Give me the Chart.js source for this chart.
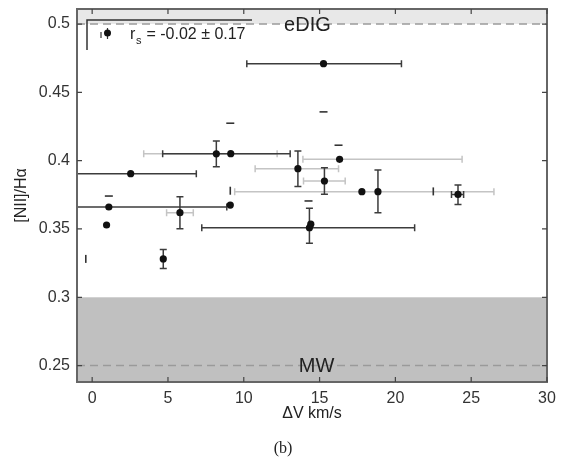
<!DOCTYPE html>
<html>
<head>
<meta charset="utf-8">
<script src="https://cdn.jsdelivr.net/npm/chart.js@4"></script>
<style>
  body { margin: 0; background: #fff; }
  #wrap { width: 561px; height: 470px; position: relative; }
</style>
</head>
<body>
<div id="wrap"><canvas id="chart"></canvas></div>
<script>
'use strict';
// Values: velocity offset (km/s) vs [NII]/Halpha
const dv    = [15.26, 2.54, 8.19, 9.14, 13.57, 16.32, 15.32, 17.79, 18.85, 24.13, 9.11, 1.10, 0.95, 5.79, 4.69, 14.33, 14.42];
const ratio = [0.471, 0.3905, 0.405, 0.4051, 0.3941, 0.401, 0.3851, 0.3773, 0.3773, 0.3753, 0.3675, 0.3661, 0.3529, 0.3619, 0.3281, 0.3509, 0.3535];

// horizontal error bars (dark)
const dvLo = [10.2, -3, null, 4.65, null, null, null, null, null, 23.7, null, -3, null, null, null, 7.23, null];
const dvHi = [20.4, 6.87, null, 13.06, null, null, null, null, null, 24.5, null, 8.88, null, null, null, 21.27, null];
// horizontal error bars (faint)
const dvLo2 = [null, null, 3.4, null, 10.75, 13.9, 13.94, 9.4, null, null, null, null, null, 4.91, null, null, null];
const dvHi2 = [null, null, 12.2, null, 16.25, 24.4, 16.69, 26.5, null, null, null, null, null, 6.67, null, null, null];
// vertical error bars
const ratioLo = [null, null, 0.3956, null, 0.381, null, 0.3754, null, 0.3619, 0.368, null, null, null, 0.3501, 0.3211, 0.3395, null];
const ratioHi = [null, null, 0.4144, null, 0.4071, null, 0.3949, null, 0.3932, 0.3822, null, null, null, 0.3736, 0.335, 0.3651, null];

// loose marks without a dot
const capDv    = [9.11, 15.26, 16.25, 1.10, 14.27];
const capRatio = [0.4274, 0.4357, 0.4113, 0.3741, 0.3705];
const tickDv    = [-0.42, 22.5, 9.11];
const tickRatio = [0.3281, 0.3775, 0.378];

const xTicks = [0, 5, 10, 15, 20, 25, 30];
const yTicks = [0.25, 0.3, 0.35, 0.4, 0.45, 0.5];

const edigLevel = 0.5;   // eDIG reference
const mwLevel = 0.25;    // Milky Way reference
const mwBand = 0.3;      // top of shaded MW band
const rsText = ' = -0.02 \u00b1 0.17';

const toXY = (xs, ys) => xs.map((v, i) => ({ x: v, y: ys[i] }));

const figurePlugin = {
  id: 'figure',
  beforeDatasetsDraw(chart) {
    const { ctx, chartArea: a, scales: { x, y } } = chart;
    ctx.save();
    // shaded bands
    const yE = y.getPixelForValue(edigLevel);
    ctx.fillStyle = '#e8e8e8';
    ctx.fillRect(a.left, a.top, a.width, yE - a.top);
    const yB = y.getPixelForValue(mwBand);
    ctx.fillStyle = '#c0c0c0';
    ctx.fillRect(a.left, yB, a.width, a.bottom - yB);
    // dashed reference lines
    ctx.strokeStyle = '#9a9a9a';
    ctx.lineWidth = 1.5;
    ctx.setLineDash([8, 5]);
    [edigLevel, mwLevel].forEach(v => {
      const py = y.getPixelForValue(v);
      ctx.beginPath();
      ctx.moveTo(a.left, py);
      ctx.lineTo(a.right, py);
      ctx.stroke();
    });
    ctx.setLineDash([]);

    ctx.beginPath();
    ctx.rect(a.left, a.top, a.width, a.height);
    ctx.clip();

    const hbar = (lo, hi, yv, color) => {
      const x0 = x.getPixelForValue(lo), x1 = x.getPixelForValue(hi), py = y.getPixelForValue(yv);
      ctx.strokeStyle = color;
      ctx.beginPath();
      ctx.moveTo(x0, py); ctx.lineTo(x1, py);
      ctx.moveTo(x0, py - 3.5); ctx.lineTo(x0, py + 3.5);
      ctx.moveTo(x1, py - 3.5); ctx.lineTo(x1, py + 3.5);
      ctx.stroke();
    };
    ctx.lineWidth = 1.5;
    dv.forEach((v, i) => {
      if (dvLo2[i] !== null) hbar(dvLo2[i], dvHi2[i], ratio[i], '#c4c4c4');
    });
    dv.forEach((v, i) => {
      if (dvLo[i] !== null) hbar(dvLo[i], dvHi[i], ratio[i], '#3c3c3c');
    });
    dv.forEach((v, i) => {
      if (ratioLo[i] === null) return;
      const px = x.getPixelForValue(v), y0 = y.getPixelForValue(ratioLo[i]), y1 = y.getPixelForValue(ratioHi[i]);
      ctx.strokeStyle = '#3c3c3c';
      ctx.beginPath();
      ctx.moveTo(px, y0); ctx.lineTo(px, y1);
      ctx.moveTo(px - 3.5, y0); ctx.lineTo(px + 3.5, y0);
      ctx.moveTo(px - 3.5, y1); ctx.lineTo(px + 3.5, y1);
      ctx.stroke();
    });
    ctx.restore();
  },
  afterDraw(chart) {
    const { ctx, chartArea: a, scales: { x, y } } = chart;
    ctx.save();
    // frame
    ctx.strokeStyle = '#666';
    ctx.lineWidth = 2;
    ctx.strokeRect(a.left, a.top, a.width, a.height);
    // inward ticks
    ctx.lineWidth = 1.2;
    ctx.strokeStyle = '#444';
    ctx.beginPath();
    xTicks.forEach(t => {
      const px = x.getPixelForValue(t);
      ctx.moveTo(px, a.bottom); ctx.lineTo(px, a.bottom - 5);
      ctx.moveTo(px, a.top); ctx.lineTo(px, a.top + 5);
    });
    yTicks.forEach(t => {
      const py = y.getPixelForValue(t);
      ctx.moveTo(a.left, py); ctx.lineTo(a.left + 5, py);
      ctx.moveTo(a.right, py); ctx.lineTo(a.right - 5, py);
    });
    ctx.stroke();

    // band labels
    ctx.fillStyle = '#222';
    ctx.font = '20px "Liberation Sans", Arial, sans-serif';
    ctx.textAlign = 'center';
    ctx.textBaseline = 'middle';
    ctx.fillText('eDIG', x.getPixelForValue(14.2), y.getPixelForValue(edigLevel) + 1);
    ctx.fillText('MW', x.getPixelForValue(14.8), y.getPixelForValue(mwLevel) + 1);

    // legend bracket
    const lx = a.left + 10, ly = a.top + 11;
    ctx.strokeStyle = '#333';
    ctx.lineWidth = 1.5;
    ctx.beginPath();
    ctx.moveTo(lx, ly + 30); ctx.lineTo(lx, ly); ctx.lineTo(lx + 165, ly);
    ctx.stroke();
    // legend symbol
    ctx.lineWidth = 1.2;
    ctx.beginPath();
    ctx.moveTo(lx + 20.5, ly + 8); ctx.lineTo(lx + 20.5, ly + 19);
    ctx.moveTo(lx + 14, ly + 12); ctx.lineTo(lx + 14, ly + 18);
    ctx.stroke();
    ctx.fillStyle = '#111';
    ctx.beginPath();
    ctx.arc(lx + 20.5, ly + 13, 3.5, 0, Math.PI * 2);
    ctx.fill();
    // legend text
    ctx.fillStyle = '#222';
    ctx.textAlign = 'left';
    ctx.textBaseline = 'alphabetic';
    ctx.font = '16px "Liberation Sans", Arial, sans-serif';
    ctx.fillText('r', lx + 43, ly + 19);
    ctx.font = '11px "Liberation Sans", Arial, sans-serif';
    ctx.fillText('s', lx + 49, ly + 24);
    ctx.font = '16px "Liberation Sans", Arial, sans-serif';
    ctx.fillText(rsText, lx + 55, ly + 19);

    // panel label
    ctx.font = '16px "Liberation Serif", "Times New Roman", serif';
    ctx.textAlign = 'center';
    ctx.fillText('(b)', 283, 453);
    ctx.restore();
  }
};

const data = {
  datasets: [{
    label: 'points',
    data: toXY(dv, ratio),
    pointRadius: 3.6,
    backgroundColor: '#111',
    borderWidth: 0
  }, {
    label: 'caps',
    data: toXY(capDv, capRatio),
    pointStyle: 'line',
    pointRadius: 4,
    borderColor: '#333',
    borderWidth: 1.6
  }, {
    label: 'ticks',
    data: toXY(tickDv, tickRatio),
    pointStyle: 'line',
    rotation: 90,
    pointRadius: 4,
    borderColor: '#333',
    borderWidth: 1.6
  }]
};

const config = {
  type: 'scatter',
  data: data,
  plugins: [figurePlugin],
  options: {
    responsive: true,
    maintainAspectRatio: false,
    animation: false,
    layout: { padding: { left: 0, top: 9, right: 14, bottom: 0 } },
    plugins: { legend: { display: false }, tooltip: { enabled: false } },
    scales: {
      x: {
        type: 'linear',
        min: -1,
        max: 30,
        afterFit: s => { s.height = 88; s.paddingLeft = 0; s.paddingRight = 0; },
        afterBuildTicks: s => { s.ticks = xTicks.map(v => ({ value: v })); },
        grid: { display: false, drawTicks: false },
        border: { display: false },
        ticks: { padding: 7, color: '#333', font: { size: 16, family: '"Liberation Sans", Arial, sans-serif' } },
        title: {
          display: true,
          text: '\u0394V km/s',
          color: '#222',
          padding: { top: 0, bottom: 47 },
          font: { size: 16, family: '"Liberation Sans", Arial, sans-serif' }
        }
      },
      y: {
        type: 'linear',
        min: 0.238,
        max: 0.511,
        afterFit: s => { s.width = 77; s.paddingTop = 0; s.paddingBottom = 0; },
        afterBuildTicks: s => { s.ticks = yTicks.map(v => ({ value: v })); },
        grid: { display: false, drawTicks: false },
        border: { display: false },
        ticks: {
          padding: 7,
          color: '#333',
          font: { size: 16, family: '"Liberation Sans", Arial, sans-serif' },
          callback: v => String(Number(v.toFixed(2)))
        },
        title: {
          display: true,
          text: '[NII]/H\u03b1',
          color: '#222',
          padding: { top: 12, bottom: 0 },
          font: { size: 16, family: '"Liberation Sans", Arial, sans-serif' }
        }
      }
    }
  }
};

const canvasElem = document.getElementById('chart');
const myChart = new Chart(canvasElem, config);
</script>
</body>
</html>
